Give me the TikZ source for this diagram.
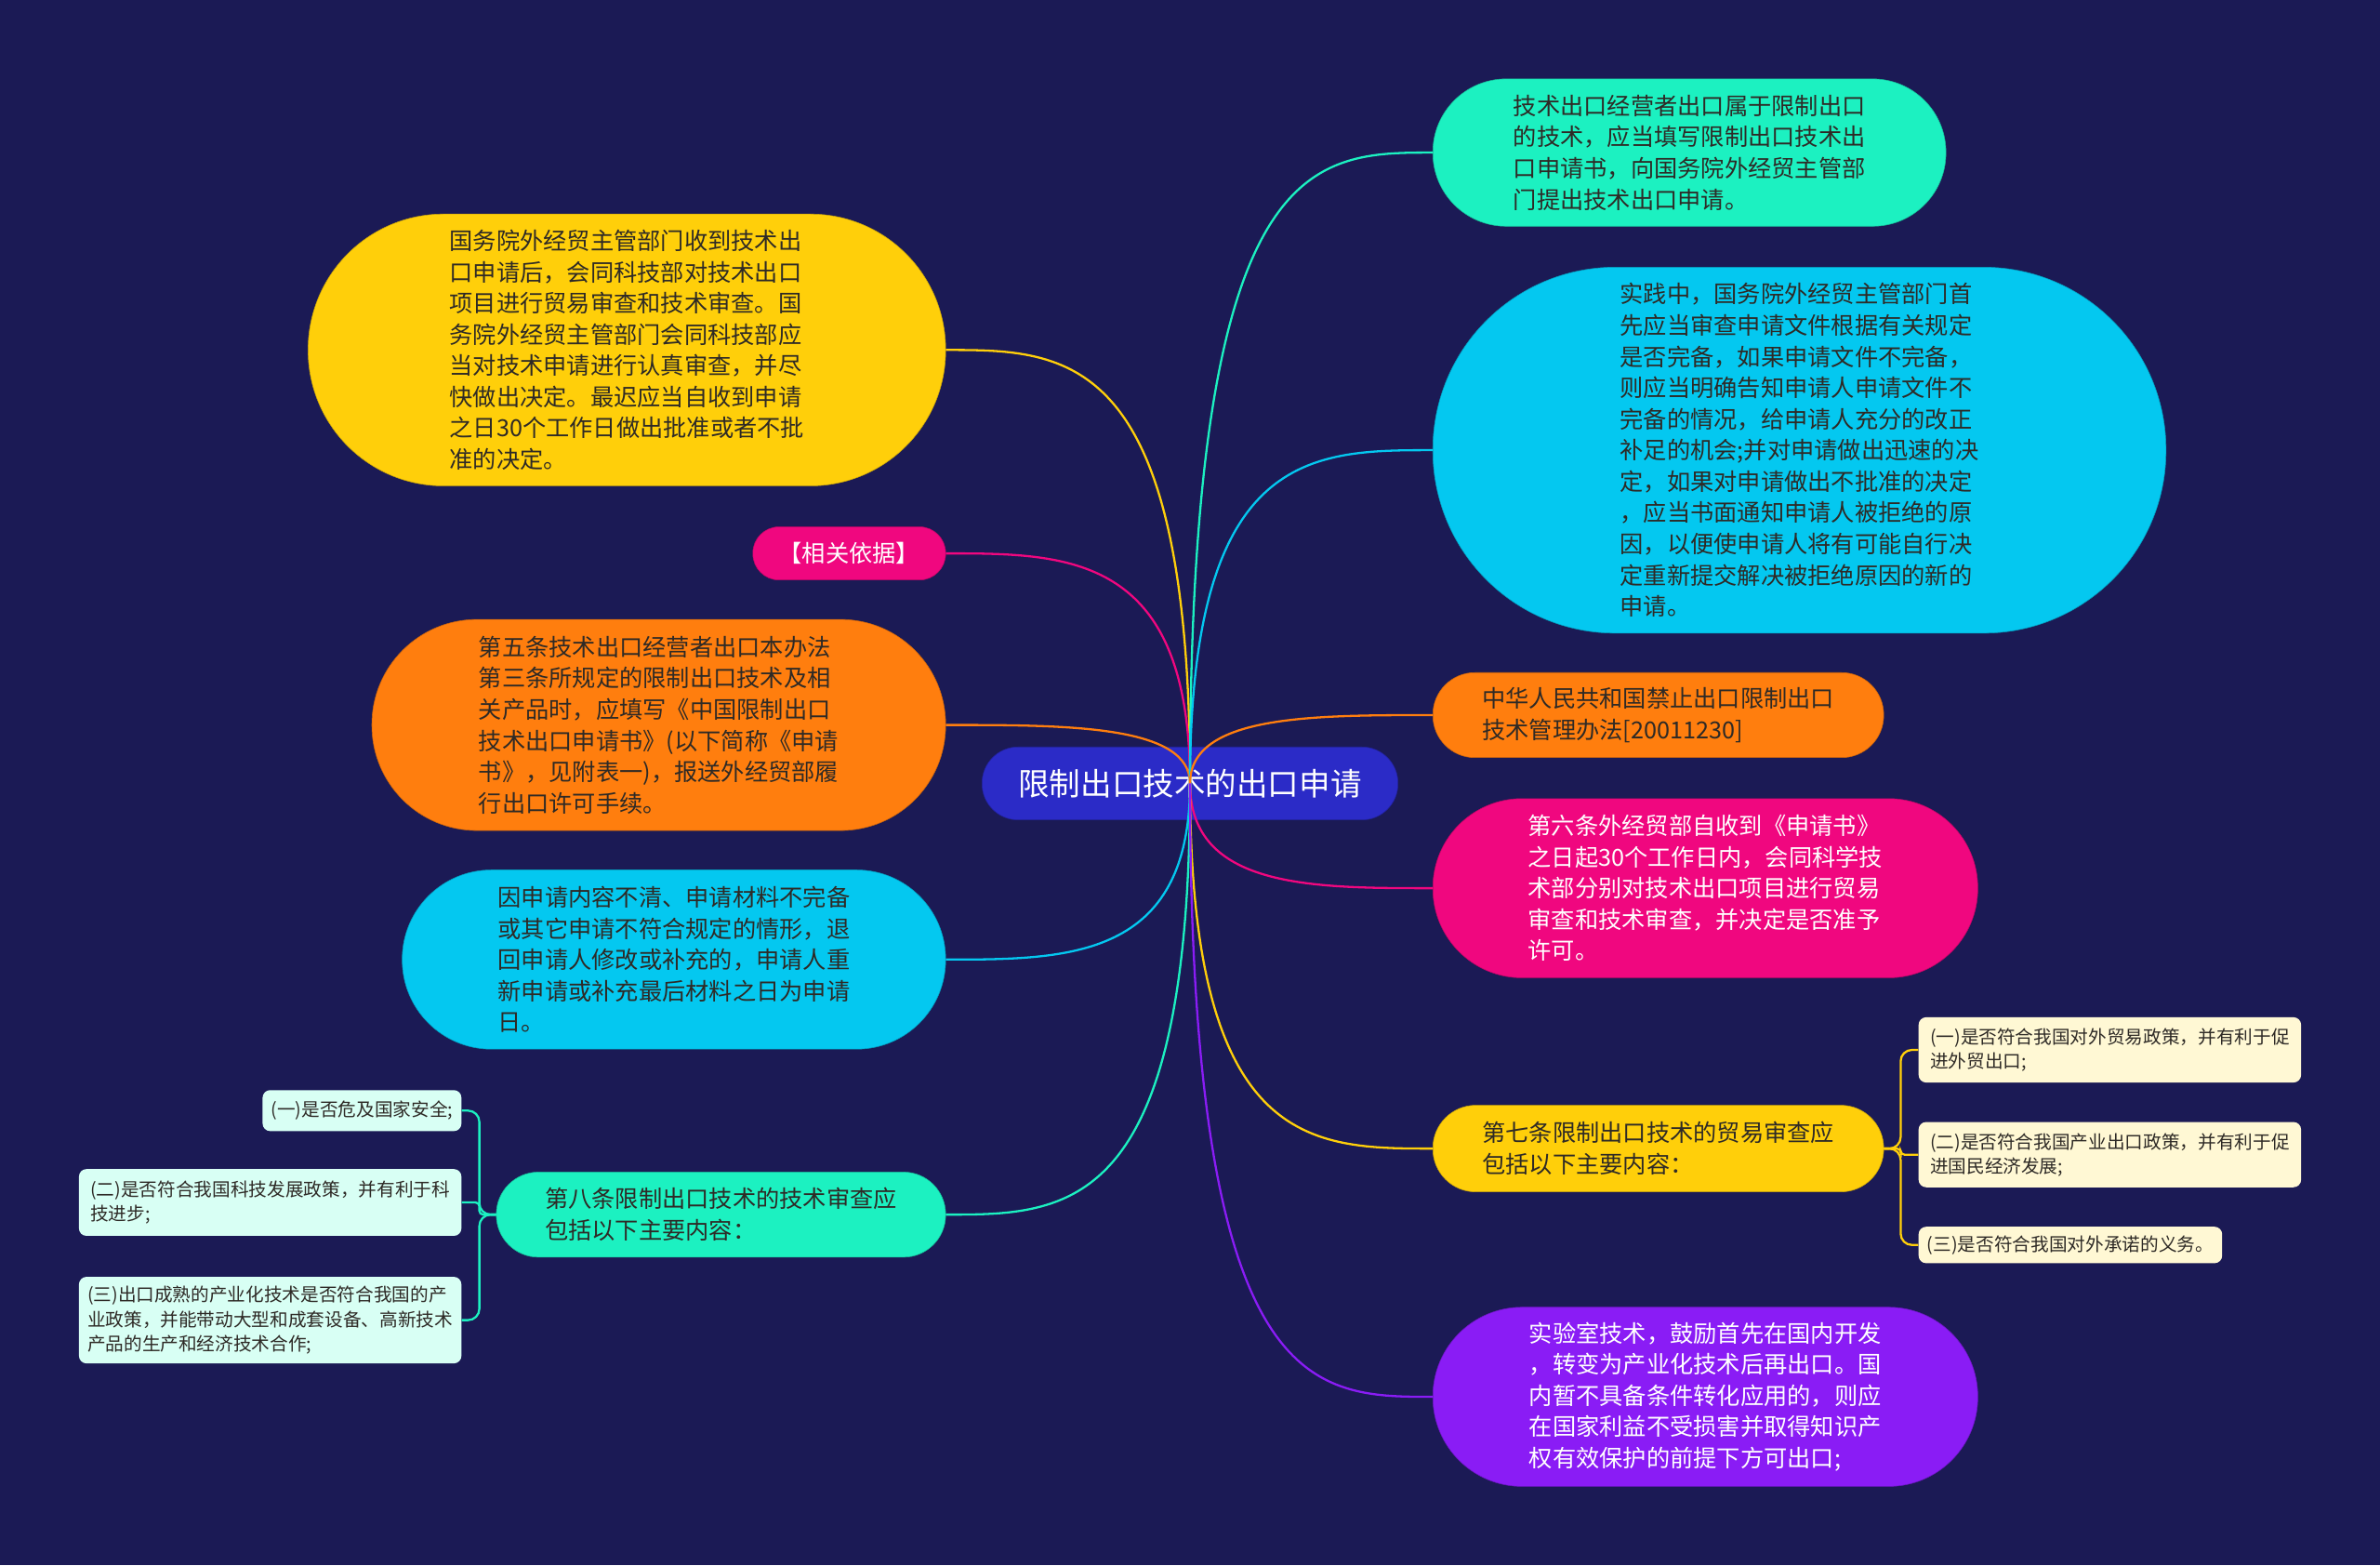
\documentclass[tikz,border=0pt]{standalone}
\usepackage{fontspec}
\usepackage{xcolor}
\usetikzlibrary{calc}
\newfontfamily\cjk{Noto Sans CJK SC}
\definecolor{bg}{HTML}{1B1A55}
\definecolor{ink}{HTML}{2E2A26}
\definecolor{cyellow}{HTML}{FFCF0A}
\definecolor{cteal}{HTML}{1CF1C1}
\definecolor{ccyan}{HTML}{04C8F0}
\definecolor{corange}{HTML}{FF7E0E}
\definecolor{cpink}{HTML}{F0077F}
\definecolor{cpurple}{HTML}{8A1CF5}
\definecolor{cblue}{HTML}{2B2BC7}
\definecolor{lyellow}{HTML}{FFF8D4}
\definecolor{lmint}{HTML}{D8FFF4}

\begin{document}
\begin{tikzpicture}[x=0.4mm, y=-0.4mm,
  box/.style={rectangle, fill=#1, draw=#1!80!black, line width=0.4pt, align=left, inner sep=0pt,
    text=ink, font=\cjk\fontsize{17.6}{23.4}\selectfont},
  sub/.style={rectangle, fill=#1, rounded corners=2mm, align=left, inner sep=0pt,
    text=ink, font=\cjk\fontsize{13.7}{18.2}\selectfont},
  link/.style={line width=1.6pt, #1}]
\fill[bg] (0,0) rectangle (1568,1031);

% centre
\node[box=cblue, text=white, font=\cjk\fontsize{23.4}{28}\selectfont, minimum width=109.6mm, minimum height=19.2mm, rounded corners=9.5mm] (root) at (784,516) {限制出口技术的出口申请};

% left side
\node[box=cyellow, minimum width=168mm, minimum height=71.6mm, rounded corners=35.7mm] (l1) at (413,230.5) {国务院外经贸主管部门收到技术出\\口申请后，会同科技部对技术出口\\项目进行贸易审查和技术审查。国\\务院外经贸主管部门会同科技部应\\当对技术申请进行认真审查，并尽\\快做出决定。最迟应当自收到申请\\之日30个工作日做出批准或者不批\\准的决定。};
\node[box=cpink, text=white, minimum width=50.8mm, minimum height=14mm, rounded corners=6.9mm] (l2) at (559.5,364.5) {【相关依据】};
\node[box=corange, minimum width=151.2mm, minimum height=55.6mm, rounded corners=27.7mm] (l3) at (434,477.5) {第五条技术出口经营者出口本办法\\第三条所规定的限制出口技术及相\\关产品时，应填写《中国限制出口\\技术出口申请书》(以下简称《申请\\书》，见附表一)，报送外经贸部履\\行出口许可手续。};
\node[box=ccyan, minimum width=143.2mm, minimum height=47.2mm, rounded corners=23.5mm] (l4) at (444,632) {因申请内容不清、申请材料不完备\\或其它申请不符合规定的情形，退\\回申请人修改或补充的，申请人重\\新申请或补充最后材料之日为申请\\日。};
\node[box=cteal, minimum width=118.4mm, minimum height=22.4mm, rounded corners=11.1mm] (l5) at (475,800) {第八条限制出口技术的技术审查应\\包括以下主要内容：};

\node[sub=lmint, minimum width=52.4mm, minimum height=10.8mm] (d1) at (238.5,731.5) {(一)是否危及国家安全;};
\node[sub=lmint, minimum width=100.8mm, minimum height=17.6mm] (d2) at (178,792) {(二)是否符合我国科技发展政策，并有利于科\\技进步;};
\node[sub=lmint, minimum width=100.8mm, minimum height=22.8mm] (d3) at (178,869.5) {(三)出口成熟的产业化技术是否符合我国的产\\业政策，并能带动大型和成套设备、高新技术\\产品的生产和经济技术合作;};

% right side
\node[box=cteal, minimum width=135.2mm, minimum height=38.8mm, rounded corners=19.3mm] (r1) at (1113,100.5) {技术出口经营者出口属于限制出口\\的技术，应当填写限制出口技术出\\口申请书，向国务院外经贸主管部\\门提出技术出口申请。};
\node[box=ccyan, minimum width=193.2mm, minimum height=96.4mm, rounded corners=48.1mm] (r2) at (1185.5,296.5) {实践中，国务院外经贸主管部门首\\先应当审查申请文件根据有关规定\\是否完备，如果申请文件不完备，\\则应当明确告知申请人申请文件不\\完备的情况，给申请人充分的改正\\补足的机会;并对申请做出迅速的决\\定，如果对申请做出不批准的决定\\，应当书面通知申请人被拒绝的原\\因，以便使申请人将有可能自行决\\定重新提交解决被拒绝原因的新的\\申请。};
\node[box=corange, minimum width=118.8mm, minimum height=22.4mm, rounded corners=11.1mm] (r3) at (1092.5,471) {中华人民共和国禁止出口限制出口\\技术管理办法[20011230]};
\node[box=cpink, text=white, minimum width=143.6mm, minimum height=47.2mm, rounded corners=23.5mm] (r4) at (1123.5,585) {第六条外经贸部自收到《申请书》\\之日起30个工作日内，会同科学技\\术部分别对技术出口项目进行贸易\\审查和技术审查，并决定是否准予\\许可。};
\node[box=cyellow, minimum width=118.8mm, minimum height=22.8mm, rounded corners=11.3mm] (r5) at (1092.5,756.5) {第七条限制出口技术的贸易审查应\\包括以下主要内容：};
\node[box=cpurple, text=white, minimum width=143.6mm, minimum height=47.2mm, rounded corners=23.5mm] (r6) at (1123.5,920) {实验室技术，鼓励首先在国内开发\\，转变为产业化技术后再出口。国\\内暂不具备条件转化应用的，则应\\在国家利益不受损害并取得知识产\\权有效保护的前提下方可出口;};

\node[sub=lyellow, minimum width=100.8mm, minimum height=17.2mm] (c1) at (1390,691.5) {(一)是否符合我国对外贸易政策，并有利于促\\进外贸出口;};
\node[sub=lyellow, minimum width=100.8mm, minimum height=17.2mm] (c2) at (1390,760.5) {(二)是否符合我国产业出口政策，并有利于促\\进国民经济发展;};
\node[sub=lyellow, minimum width=80mm, minimum height=9.6mm] (c3) at (1364,820) {(三)是否符合我国对外承诺的义务。};

% branches
\foreach \n/\c/\a in {l1/cyellow/east, l2/cpink/east, l3/corange/east, l4/ccyan/east, l5/cteal/east,
  r1/cteal/west, r2/ccyan/west, r3/corange/west, r4/cpink/west, r5/cyellow/west, r6/cpurple/west}
  \draw[link=\c] (root.center) .. controls (root.center |- \n.\a)
    and ($(root.center |- \n.\a)!0.5!(\n.\a)$) .. (\n.\a);

\draw[link=cyellow, rounded corners=3mm] (r5.east) -- ++(11,0) |- (c1.west);
\draw[link=cyellow, rounded corners=1mm] (r5.east) -- ++(11,0) |- (c2.west);
\draw[link=cyellow, rounded corners=3mm] (r5.east) -- ++(11,0) |- (c3.west);
\draw[link=cteal, rounded corners=3mm] (l5.west) -- ++(-11,0) |- (d1.east);
\draw[link=cteal, rounded corners=1mm] (l5.west) -- ++(-11,0) |- (d2.east);
\draw[link=cteal, rounded corners=3mm] (l5.west) -- ++(-11,0) |- (d3.east);
\end{tikzpicture}
\end{document}
